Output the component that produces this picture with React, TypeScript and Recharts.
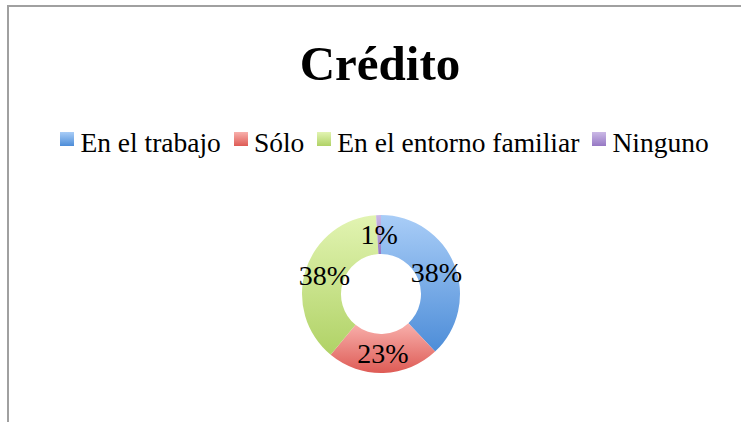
import { PieChart, Pie, Cell } from 'recharts';

const categories = ['En el trabajo', 'Sólo', 'En el entorno familiar', 'Ninguno'];
const values = [38, 23, 38, 1];
const gradientTops = ['#a9cdf7', '#f8b0ac', '#e2f4b2', '#cbb9e6'];
const gradientBottoms = ['#4d8dd8', '#de5b55', '#b0d266', '#9678c4'];

const chartData = categories.map((name, i) => ({ name, value: values[i] }));

const FONT = '"Liberation Serif", "DejaVu Serif", serif';
const RADIAN = Math.PI / 180;

const renderLabel = (props: any) => {
  const { cx, cy, midAngle, innerRadius, outerRadius, percent } = props;
  const r = (innerRadius + outerRadius) / 2;
  const x = cx + r * Math.cos(-midAngle * RADIAN);
  const y = cy + r * Math.sin(-midAngle * RADIAN);
  return (
    <text x={x} y={y} fill="#000" textAnchor="middle" dominantBaseline="central" fontFamily={FONT} fontSize={28}>
      {`${Math.round(percent * 100)}%`}
    </text>
  );
};

export default function App() {
  return (
    <div style={{ position: 'absolute', left: 0, top: 0, width: 741, height: 422, overflow: 'hidden', background: '#fff' }}>
      {/* frame (top and left edges only visible) */}
      <div
        style={{
          position: 'absolute',
          left: 7,
          top: 5,
          width: 800,
          height: 500,
          borderTop: '2px solid #a0a0a0',
          borderLeft: '2px solid #a0a0a0',
        }}
      />
      <div
        style={{
          position: 'absolute',
          left: 0,
          top: 39,
          width: 760,
          textAlign: 'center',
          fontFamily: FONT,
          fontWeight: 'bold',
          fontSize: 49,
          lineHeight: '49px',
          color: '#000',
        }}
      >
        Crédito
      </div>
      <div
        style={{
          position: 'absolute',
          left: 0,
          top: 129,
          width: 769,
          display: 'flex',
          justifyContent: 'center',
          alignItems: 'flex-start',
          fontFamily: FONT,
          fontSize: 27.5,
          lineHeight: '27.5px',
          color: '#000',
        }}
      >
        {categories.map((c, i) => (
          <div key={c} style={{ display: 'flex', alignItems: 'flex-start', marginRight: i < categories.length - 1 ? 13 : 0 }}>
            <span
              style={{
                display: 'inline-block',
                width: 14,
                height: 14,
                marginTop: 3,
                marginRight: 6,
                background: `linear-gradient(${gradientTops[i]}, ${gradientBottoms[i]})`,
              }}
            />
            <span style={{ whiteSpace: 'nowrap' }}>{c}</span>
          </div>
        ))}
      </div>
      <div style={{ position: 'absolute', left: 0, top: 0 }}>
        <PieChart width={741} height={422} margin={{ top: 0, right: 0, bottom: 0, left: 0 }}>
          <defs>
            {categories.map((c, i) => (
              <linearGradient key={c} id={`grad-${i}`} x1="0" y1="0" x2="0" y2="1">
                <stop offset="0%" stopColor={gradientTops[i]} />
                <stop offset="100%" stopColor={gradientBottoms[i]} />
              </linearGradient>
            ))}
          </defs>
          <Pie
            data={chartData}
            dataKey="value"
            nameKey="name"
            cx={381}
            cy={294}
            innerRadius={40}
            outerRadius={79}
            startAngle={90}
            endAngle={-270}
            stroke="none"
            label={renderLabel}
            labelLine={false}
            isAnimationActive={false}
          >
            {chartData.map((entry, index) => (
              <Cell key={`cell-${index}`} fill={`url(#grad-${index})`} />
            ))}
          </Pie>
        </PieChart>
      </div>
    </div>
  );
}
